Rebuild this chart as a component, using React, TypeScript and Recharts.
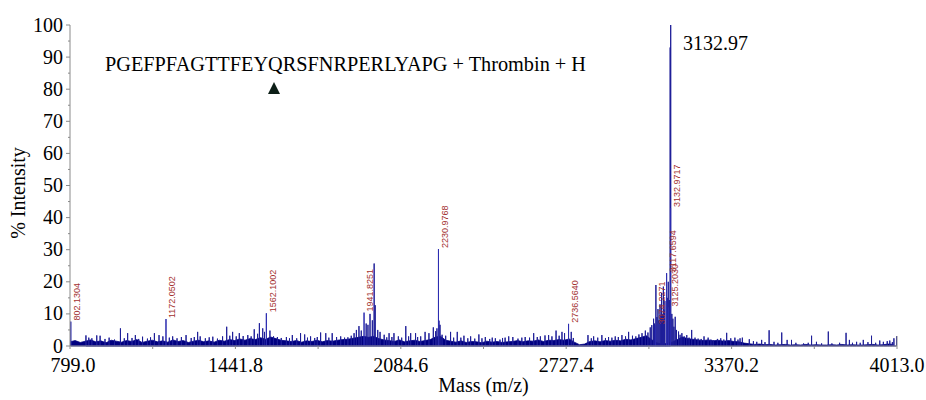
import React from 'react';
import { ComposedChart, Area, Line, XAxis, YAxis, LabelList } from 'recharts';

// ---------- data ----------
// baseline (noise floor) profile, one value every 20 m/z starting at 799
const FLOOR_START = 799;
const FLOOR_STEP = 20;
const floorValues = [
  1.3, 1.7, 1.1, 1.5, 1.9, 1.3, 1.6, 1.0, 1.8, 1.5, 1.2, 1.7, 1.4, 2.0, 1.1, 1.5, 1.8, 1.3, 1.6, 1.2,
  1.9, 1.4, 1.7, 1.1, 1.5, 1.8, 1.3, 1.6, 1.2, 1.8, 1.5,
  2.0, 1.7, 2.2, 1.8, 2.3, 2.0, 2.6, 2.1, 2.8, 2.3, 1.8, 1.6,
  1.4, 1.7, 1.2, 1.6, 1.4, 1.8, 1.3, 1.7, 1.5, 1.8, 2.0,
  2.1, 2.4, 2.7, 3.0, 2.7, 3.0, 2.3, 1.9,
  1.7, 1.4, 1.9, 1.3, 1.6, 1.8, 1.4, 1.7, 2.0,
  2.8, 3.0, 1.8,
  1.5, 1.2, 1.6, 1.1, 1.4, 1.3, 1.0, 1.5, 1.2, 1.4, 1.1, 1.3,
  1.4, 1.7, 1.3, 1.6, 1.5, 1.9, 1.4, 1.8, 1.7, 2.0, 1.8, 2.2, 1.2,
  0.4, 0.6, 1.4, 1.6, 1.3, 1.7, 1.5,
  1.8, 1.6, 2.1, 1.9, 2.3, 2.7, 3.2,
  2.0, 1.0, 0.6, 0.8, 1.2, 2.0,
  2.8, 2.3, 2.1, 1.9, 1.7, 1.9, 1.6, 1.8, 1.5, 1.7, 1.4, 1.3,
  0.9, 0.7, 0.5, 0.6, 0.4, 0.5, 0.3, 0.4, 0.5, 0.3, 0.4, 0.3, 0.5, 0.3, 0.4, 0.3, 0.3, 0.4, 0.3, 0.5,
  0.3, 0.4, 0.3, 0.3, 0.4, 0.5, 0.3, 0.4, 0.6, 0.5,
];

// unlabelled spectral lines: [m/z, % intensity]
const spikeLines: [number, number][] = [
  [861, 3.3], [872, 2.6], [884, 2.4], [903, 3.3], [916, 3.2], [935, 2.2], [951, 2.6], [972, 2.0], [995, 5.5],
  [1010, 2.4], [1023, 4.0], [1040, 2.5], [1053, 3.4], [1066, 2.2], [1081, 2.9], [1100, 2.3], [1112, 2.7],
  [1127, 4.0], [1145, 3.4], [1160, 3.0], [1185, 2.6], [1198, 3.0], [1215, 2.4], [1232, 2.8], [1250, 3.4],
  [1270, 2.5], [1282, 2.8], [1295, 4.4], [1305, 3.0], [1325, 2.4], [1340, 2.7], [1354, 2.9], [1372, 2.3],
  [1392, 3.0], [1408, 6.0], [1420, 3.2], [1431, 4.4], [1445, 3.0], [1457, 4.0], [1472, 3.1],
  [1490, 3.4], [1503, 3.0], [1515, 5.2], [1528, 3.8], [1535, 7.1], [1548, 5.5], [1555, 4.4],
  [1576, 4.8], [1590, 3.0], [1605, 2.8], [1620, 2.5], [1640, 2.8], [1652, 2.4], [1663, 3.4], [1680, 2.4],
  [1695, 4.0], [1711, 3.6], [1722, 2.6], [1734, 3.0], [1750, 2.5], [1760, 2.8], [1773, 4.2], [1793, 4.0], [1805, 2.6],
  [1818, 4.0], [1835, 2.8], [1851, 3.0], [1866, 2.6], [1879, 2.7], [1892, 3.2], [1903, 4.0], [1912, 5.0],
  [1922, 6.2], [1931, 4.8], [1950, 7.0], [1957, 6.6], [1965, 10.0], [1974, 8.0], [1981, 25.7],
  [1985, 12.7], [1995, 5.0], [2004, 4.4], [2020, 3.5], [2030, 2.7], [2039, 4.0], [2050, 2.8], [2058, 4.0],
  [2075, 3.0], [2088, 2.6], [2104, 6.2], [2115, 3.0], [2123, 4.0], [2142, 4.0], [2150, 2.8],
  [2162, 3.0], [2179, 4.4], [2194, 4.0], [2211, 5.8], [2220, 4.6], [2225, 5.5], [2233, 7.9],
  [2237, 6.6], [2245, 3.5], [2259, 3.2], [2278, 4.4], [2290, 2.6], [2304, 4.4], [2318, 2.6],
  [2330, 3.2], [2345, 2.4], [2356, 3.0], [2372, 2.3], [2388, 3.6], [2400, 2.4], [2413, 2.8], [2430, 2.2],
  [2440, 2.6], [2452, 2.4], [2470, 2.0], [2480, 2.5], [2490, 2.6], [2504, 3.0], [2520, 2.8], [2540, 2.3],
  [2555, 2.6], [2568, 2.8], [2585, 2.6], [2601, 4.0], [2615, 2.8], [2627, 3.0], [2645, 3.3], [2659, 3.4], [2672, 3.0],
  [2688, 4.8], [2700, 3.2], [2711, 4.4], [2721, 4.0], [2747, 4.4], [2755, 2.5], [2812, 3.4],
  [2825, 2.4], [2834, 3.0], [2850, 2.6], [2866, 3.4], [2880, 2.5], [2892, 2.8], [2905, 2.6],
  [2918, 3.0], [2930, 2.8], [2944, 3.4], [2958, 3.0], [2970, 4.4], [2985, 3.2], [2998, 3.0],
  [3010, 3.6], [3022, 4.0], [3035, 4.8], [3045, 4.2], [3054, 5.8], [3060, 6.5], [3067, 8.5],
  [3071, 7.0], [3076, 19.0], [3080, 9.0], [3084, 11.5], [3088, 8.0], [3092, 13.0], [3095, 9.5],
  [3098, 16.5], [3102, 10.0], [3105, 18.5], [3109, 11.0], [3111, 14.0], [3120, 15.0], [3124, 20.0],
  [3128, 14.3], [3131.5, 93.0], [3133.5, 100.0], [3138, 10.0], [3142, 8.5], [3146, 6.0], [3151, 9.1],
  [3156, 5.0], [3164, 4.5], [3170, 3.5], [3177, 4.0], [3186, 3.0], [3196, 3.4], [3205, 2.6],
  [3215, 5.0], [3228, 2.6], [3240, 2.3], [3252, 2.2], [3263, 3.0], [3279, 2.6], [3290, 2.0],
  [3299, 1.8], [3315, 2.2], [3328, 2.4], [3340, 2.0], [3351, 4.1], [3367, 2.4], [3383, 2.6],
  [3395, 2.0], [3403, 2.4], [3412, 2.6], [3439, 2.1], [3455, 1.5], [3468, 1.3], [3487, 1.9],
  [3500, 1.2], [3516, 4.9], [3535, 1.3], [3550, 1.0], [3565, 4.2], [3586, 1.9], [3603, 1.9],
  [3620, 1.0], [3650, 0.8], [3668, 1.0], [3681, 3.2], [3700, 1.3], [3720, 0.8], [3746, 4.5],
  [3760, 0.8], [3790, 1.0], [3815, 4.1], [3828, 1.9], [3840, 1.0], [3856, 1.3], [3870, 1.0],
  [3882, 1.9], [3900, 1.2], [3914, 3.2], [3930, 1.0], [3946, 1.7], [3960, 1.3], [3975, 1.5],
  [3985, 1.7], [3995, 1.2], [4001, 2.4], [4011, 3.0],
];

// labelled peaks
const peakMasses = [802.1304, 1172.0502, 1562.1002, 1941.8251, 2230.9768, 2736.564, 3074.2271, 3117.6594, 3125.203, 3132.9717];
const peakIntensities = [7.6, 8.4, 10.2, 10.4, 30.2, 6.9, 6.5, 22.7, 12.0, 43.0];
const peakLabels = ['802.1304', '1172.0502', '1562.1002', '1941.8251', '2230.9768', '2736.5640', '3074.2271', '3117.6594', '3125.2030', '3132.9717'];

// axis ticks
const xTicks = [799, 1120.4, 1441.8, 1763.2, 2084.6, 2406, 2727.4, 3048.8, 3370.2, 3691.6, 4013];
const xTickLabels = ['799.0', '', '1441.8', '', '2084.6', '', '2727.4', '', '3370.2', '', '4013.0'];
const yTicks = [0, 5, 10, 15, 20, 25, 30, 35, 40, 45, 50, 55, 60, 65, 70, 75, 80, 85, 90, 95, 100];

// ---------- tables built for recharts ----------
const floorData = floorValues.map((v, i) => ({ m: FLOOR_START + i * FLOOR_STEP, v }));
const spikeData = spikeLines.flatMap(([m, v]) => [{ m, v: 0 }, { m, v }, { m, v: 0 }]);
const peakData = peakMasses.flatMap((m, i) => [
  { m, v: 0 },
  { m, v: peakIntensities[i], label: peakLabels[i] },
  { m, v: 0 },
]);

const SERIF = "'Liberation Serif', 'Times New Roman', Times, serif";
const serifStyle: React.CSSProperties = { fontFamily: SERIF };
const AXIS_GREY = '#8a8a8a';

const XTick = (props: any) => {
  const { x, y, index } = props;
  const text = xTickLabels[index];
  const last = index === xTicks.length - 1;
  return (
    <g>
      <line x1={x} x2={x} y1={last ? y - 10 : y} y2={y + 3} stroke={AXIS_GREY} strokeWidth={1} />
      {text ? (
        <text x={index === 0 ? x + 3 : x} y={y + 26} textAnchor="middle" style={serifStyle} fontSize={20} fill="#000">
          {text}
        </text>
      ) : null}
    </g>
  );
};

const YTick = (props: any) => {
  const { x, y, payload } = props;
  const v = payload.value;
  const major = v % 10 === 0;
  return (
    <g>
      <line x1={x - (major ? 4 : 2)} x2={x} y1={y} y2={y} stroke={AXIS_GREY} strokeWidth={1} />
      {major ? (
        <text x={x - 7} y={y} dy={6.5} textAnchor="end" style={serifStyle} fontSize={20} fill="#000">
          {v}
        </text>
      ) : null}
    </g>
  );
};

const PeakLabel = (props: any) => {
  const { x, y, value } = props;
  if (!value) return null;
  const ax = x + 9.3;
  const ay = y - 1;
  return (
    <text
      x={ax}
      y={ay}
      transform={`rotate(-90 ${ax} ${ay})`}
      textAnchor="start"
      style={{ fontFamily: "'Liberation Sans', Arial, sans-serif" }}
      fontSize={9}
      fill="#a3302f"
    >
      {value}
    </text>
  );
};

export default function App() {
  return (
    <div style={{ position: 'absolute', left: 0, top: 0, width: 926, height: 400, background: '#fff', fontFamily: SERIF }}>
      <ComposedChart width={926} height={400} margin={{ top: 25, right: 29, left: 0, bottom: 0 }}>
        <XAxis
          dataKey="m"
          type="number"
          domain={[799, 4013]}
          allowDataOverflow
          ticks={xTicks}
          tick={<XTick />}
          tickLine={false}
          tickSize={0}
          tickMargin={0}
          height={54}
          axisLine={{ stroke: AXIS_GREY }}
          interval={0}
        />
        <YAxis
          type="number"
          domain={[0, 100]}
          ticks={yTicks}
          tick={<YTick />}
          tickLine={false}
          tickSize={0}
          tickMargin={0}
          width={70}
          axisLine={{ stroke: AXIS_GREY }}
          interval={0}
        />
        <Area
          data={floorData}
          dataKey="v"
          type="linear"
          stroke="#000080"
          strokeWidth={0.8}
          fill="#000080"
          fillOpacity={1}
          dot={false}
          activeDot={false}
          isAnimationActive={false}
        />
        <Line
          data={spikeData}
          dataKey="v"
          type="linear"
          stroke="#1e1e98"
          strokeWidth={1}
          dot={false}
          activeDot={false}
          isAnimationActive={false}
        />
        <Line
          data={peakData}
          dataKey="v"
          type="linear"
          stroke="#2c2cb0"
          strokeWidth={1}
          dot={false}
          activeDot={false}
          isAnimationActive={false}
        >
          <LabelList dataKey="label" content={<PeakLabel />} />
        </Line>
      </ComposedChart>
      <svg
        width={926}
        height={400}
        style={{ position: 'absolute', left: 0, top: 0, pointerEvents: 'none' }}
      >
        <text x={105} y={71} style={serifStyle} fontSize={20.3} fill="#000">
          PGEFPFAGTTFEYQRSFNRPERLYAPG + Thrombin + H
        </text>
        <polygon points="274,82 268,94 280,94" fill="#0d1f17" />
        <text x={683} y={50} style={serifStyle} fontSize={20} fill="#000">
          3132.97
        </text>
        <text x={483.5} y={392} textAnchor="middle" style={serifStyle} fontSize={20} fill="#000">
          Mass (m/z)
        </text>
        <text
          x={25}
          y={193}
          textAnchor="middle"
          transform="rotate(-90 25 193)"
          style={serifStyle}
          fontSize={20}
          fill="#000"
        >
          % Intensity
        </text>
      </svg>
    </div>
  );
}
